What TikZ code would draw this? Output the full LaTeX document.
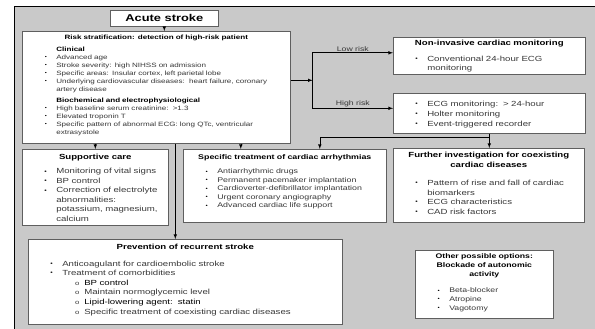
\documentclass[tikz,border=0pt]{standalone}
\usepackage{fontspec}
\setmainfont[FakeStretch=1.3]{Liberation Sans}
\usepackage{graphicx}
\usepackage{enumitem}
\definecolor{bggray}{RGB}{201,201,201}
\definecolor{boxgray}{RGB}{95,95,95}
\definecolor{txtgray}{RGB}{55,55,55}
\setlist[itemize]{itemsep=0pt,parsep=0pt,topsep=0pt,partopsep=0pt}
\setlist[itemize,1]{label=\raisebox{.2ex}{\scalebox{.72}{\textcolor{black}{\textbullet}}},leftmargin=34pt,labelsep=9.5pt}
\setlist[itemize,2]{label=\scalebox{.8}{o},leftmargin=22pt,labelsep=5pt}
\newcommand{\hd}[1]{\textcolor{black}{\bfseries #1}}
\begin{document}
\begin{tikzpicture}[x=1pt,y=-1pt,
  box/.style={draw=boxgray,fill=white,line width=.6pt,anchor=north west,inner sep=0pt},
  txt/.style={anchor=north west,inner sep=0pt,text=txtgray},
  lbl/.style={inner sep=1pt,text=txtgray,font=\fontsize{6.7}{8}\selectfont},
  line width=.6pt]
  \useasboundingbox (0,0) rectangle (595,329);
  \fill[bggray] (14,7) rectangle (595,329);
  \draw[line width=1pt] (14,329) -- (14,7) -- (595,7);

  % boxes
  \node[box,minimum width=108pt,minimum height=16pt,font=\fontsize{9.9}{12}\selectfont\bfseries] (acute) at (110,10) {Acute stroke};
  \node[box,minimum width=268pt,minimum height=112pt] (risk) at (22,31) {};
  \node[box,minimum width=146pt,minimum height=76pt] (supp) at (22,149) {};
  \node[box,minimum width=203pt,minimum height=73pt] (spec) at (183,149) {};
  \node[box,minimum width=192pt,minimum height=37pt] (noninv) at (393,37) {};
  \node[box,minimum width=192pt,minimum height=40pt] (hrisk) at (393,93) {};
  \node[box,minimum width=191pt,minimum height=74pt] (further) at (393,148) {};
  \node[box,minimum width=314pt,minimum height=85pt] (prev) at (28,239) {};
  \node[box,minimum width=138pt,minimum height=68pt] (other) at (415,250) {};

  % texts
  \node[txt,text width=268pt,font=\fontsize{6.2}{8}\selectfont] (risktxt) at ([yshift=-3.8pt]risk.north west) {%
    {\centering\hd{Risk stratification: detection of high-risk patient}\par}\vspace{4pt}
    \begin{itemize}
      \item[] \hd{Clinical}
      \item Advanced age
      \item Stroke severity: high NIHSS on admission
      \item Specific areas: Insular cortex, left parietal lobe
      \item Underlying cardiovascular diseases:\ \ heart failure, coronary\newline artery disease
      \vspace{3pt}
      \item[] \hd{Biochemical and electrophysiological}
      \item High baseline serum creatinine:\ \ >1.3
      \item Elevated troponin T
      \item Specific pattern of abnormal ECG: long QTc, ventricular\newline extrasystole
    \end{itemize}};
  \node[txt,text width=146pt,font=\fontsize{7.4}{9.5}\selectfont] (supptxt) at ([yshift=-5.3pt]supp.north west) {%
    {\centering\hd{Supportive care}\par}\vspace{4.5pt}
    \begin{itemize}
      \item Monitoring of vital signs
      \item BP control
      \item Correction of electrolyte\newline abnormalities:\newline potassium, magnesium,\newline calcium
    \end{itemize}};
  \node[txt,text width=203pt,font=\fontsize{6.8}{8.5}\selectfont] (spectxt) at ([yshift=-5.5pt]spec.north west) {%
    {\centering\hd{Specific treatment of cardiac arrhythmias}\par}\vspace{5.5pt}
    \begin{itemize}
      \item Antiarrhythmic drugs
      \item Permanent pacemaker implantation
      \item Cardioverter-defibrillator implantation
      \item Urgent coronary angiography
      \item Advanced cardiac life support
    \end{itemize}};
  \node[txt,text width=192pt,font=\fontsize{7.4}{9}\selectfont] (noninvtxt) at ([yshift=-3.3pt]noninv.north west) {%
    {\centering\hd{Non-invasive cardiac monitoring}\par}\vspace{6.5pt}
    \begin{itemize}
      \item Conventional 24-hour ECG\newline monitoring
    \end{itemize}};
  \node[txt,text width=192pt,font=\fontsize{7.4}{10}\selectfont] (hrisktxt) at ([yshift=-3.3pt]hrisk.north west) {%
    \begin{itemize}
      \item ECG monitoring:\ \ > 24-hour
      \item Holter monitoring
      \item Event-triggered recorder
    \end{itemize}};
  \node[txt,text width=191pt,font=\fontsize{7.4}{9.7}\selectfont] (furthertxt) at ([yshift=-4.3pt]further.north west) {%
    {\centering\hd{Further investigation for coexisting\\cardiac diseases}\par}\vspace{8pt}
    \begin{itemize}[rightmargin=9pt]
      \item Pattern of rise and fall of cardiac biomarkers
      \item ECG characteristics
      \item CAD risk factors
    \end{itemize}};
  \node[txt,text width=314pt,font=\fontsize{7.4}{9.6}\selectfont] (prevtxt) at ([yshift=-5.3pt]prev.north west) {%
    {\centering\hd{Prevention of recurrent stroke}\par}\vspace{6.5pt}
    \begin{itemize}
      \item Anticoagulant for cardioembolic stroke
      \item Treatment of comorbidities
      \begin{itemize}
        \item \textcolor{black}{BP control}
        \item Maintain normoglycemic level
        \item \textcolor{black}{Lipid-lowering agent:\ \ statin}
        \item Specific treatment of coexisting cardiac diseases
      \end{itemize}
    \end{itemize}};
  \node[txt,text width=138pt,font=\fontsize{6.7}{8.7}\selectfont] (othertxt) at ([yshift=-3.6pt]other.north west) {%
    {\centering\hd{Other possible options:\\Blockade of autonomic\\activity}\par}\vspace{8pt}
    \begin{itemize}
      \item Beta-blocker
      \item Atropine
      \item Vagotomy
    \end{itemize}};

  % connectors
  \draw[-latex] (acute.south) -- (acute.south |- risk.north);
  \coordinate (split) at ([xshift=22pt,yshift=7pt]risk.east);
  \draw[-latex] ([yshift=7pt]risk.east) -- (split);
  \draw[-latex] (split) |- node[lbl,above,pos=.75]{Low risk} ([yshift=3pt]noninv.west);
  \draw[-latex] (split) |- node[lbl,above,pos=.75]{High risk} ([yshift=5pt]hrisk.west);
  \draw[-latex] (hrisk.south) -- (hrisk.south |- further.north);
  \draw[-latex] (hrisk.south) -- ++(0,4) -| ([xshift=35pt]spec.north);
  \draw[-latex] (risk.south -| supp.north) -- (supp.north);
  \draw[-latex] ([xshift=-44pt]spec.north |- risk.south) -- ([xshift=-44pt]spec.north);
  \draw[-latex] ([xshift=-10pt]prev.north |- risk.south) -- ([xshift=-10pt]prev.north);
\end{tikzpicture}
\end{document}
